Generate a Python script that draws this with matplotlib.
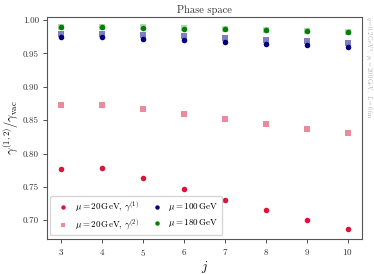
import numpy as np
import matplotlib
matplotlib.use("Agg")
import matplotlib.pyplot as plt

plt.rcParams['font.family'] = 'serif'
plt.rcParams['font.serif'] = ['cmr10', 'DejaVu Serif']
plt.rcParams['mathtext.fontset'] = 'cm'
plt.rcParams['axes.formatter.use_mathtext'] = True

j = [3, 4, 5, 6, 7, 8, 9, 10]

# mu = 20 GeV
g1_20 = [0.7775, 0.778, 0.764, 0.7475, 0.731, 0.7155, 0.7005, 0.687]
g2_20 = [0.873, 0.873, 0.8665, 0.8585, 0.851, 0.8435, 0.837, 0.8305]
# mu = 100 GeV
g1_100 = [0.974, 0.974, 0.972, 0.9695, 0.967, 0.9645, 0.962, 0.959]
g2_100 = [0.979, 0.979, 0.9775, 0.976, 0.9725, 0.970, 0.968, 0.9655]
# mu = 180 GeV
g1_180 = [0.989, 0.989, 0.988, 0.987, 0.986, 0.9845, 0.983, 0.9815]
g2_180 = [0.990, 0.990, 0.989, 0.988, 0.987, 0.9855, 0.984, 0.9825]

fig = plt.figure(figsize=(3.74, 2.74), dpi=100)
ax = fig.add_axes([0.125, 0.128, 0.843, 0.811])

s = 16
ax.scatter(j, g2_180, marker='s', color='green', alpha=0.3, s=s, lw=0)
ax.scatter(j, g2_100, marker='s', color='navy', alpha=0.5, s=s, lw=0)
ax.scatter(j, g1_20, marker='o', color='crimson', s=s, lw=0,
           label=r'$\mu=20\,\mathrm{GeV},\,\gamma^{(1)}$')
ax.scatter(j, g2_20, marker='s', color='crimson', alpha=0.5, s=s, lw=0,
           label=r'$\mu=20\,\mathrm{GeV},\,\gamma^{(2)}$')
ax.scatter(j, g1_100, marker='o', color='navy', s=s, lw=0,
           label=r'$\mu=100\,\mathrm{GeV}$')
ax.scatter(j, g1_180, marker='o', color='green', s=s, lw=0,
           label=r'$\mu=180\,\mathrm{GeV}$')

ax.set_xlim(2.65, 10.35)
ax.set_ylim(0.672, 1.005)
ax.set_xticks(j)
ax.set_yticks([0.70, 0.75, 0.80, 0.85, 0.90, 0.95, 1.00])
ax.yaxis.set_major_formatter(matplotlib.ticker.FormatStrFormatter('%.2f'))
ax.tick_params(labelsize=6.5, length=3, width=0.6, pad=2.5, colors='#333333')
for sp in ax.spines.values():
    sp.set_color('#555555')

ax.set_xlabel(r'$j$', fontsize=9, labelpad=1)
ax.set_ylabel(r'$\gamma^{(1,2)}/\gamma_{\rm vac}$', fontsize=9, labelpad=2)
ax.set_title('Phase space', fontsize=7.5, pad=3, color='#333333')

ax.legend(loc='lower left', ncol=2, fontsize=6.5, handletextpad=0.3,
          columnspacing=1.0, borderaxespad=0.4, framealpha=0.8,
          markerscale=0.8, borderpad=0.4, labelspacing=0.4)

fig.text(0.985, 0.94,
         r'$\hat{q}=0.2\,\mathrm{GeV}^3,\ p_t=200\,\mathrm{GeV},\ L=6\,\mathrm{fm}$',
         rotation=270, fontsize=4.5, color='#aaaaaa', ha='center', va='top')

fig.savefig('out.png', dpi=100)
